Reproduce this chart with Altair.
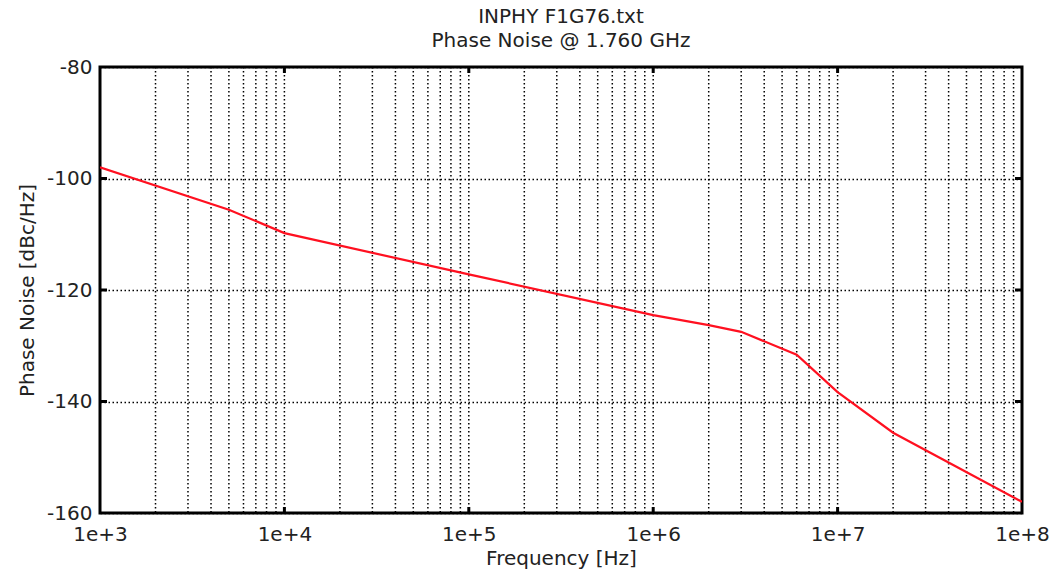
import altair as alt
import pandas as pd

# Phase noise curve (offset frequency in Hz, dBc/Hz)
freq = [1e3, 5e3, 1e4, 1e5, 1e6, 2e6, 3e6, 6e6, 1e7, 2e7, 1e8]
noise = [-98.0, -105.6, -109.8, -117.2, -124.5, -126.3, -127.5, -131.6, -138.3, -145.6, -158.0]

# Minor/major vertical grid positions
grid_freq = [m * 10 ** k for k in range(3, 8) for m in range(2, 10)] + [1e4, 1e5, 1e6, 1e7]
decades = [1e4, 1e5, 1e6, 1e7]
decade_labels = [1e3, 1e4, 1e5, 1e6, 1e7, 1e8]
y_ticks = [-160, -140, -120, -100, -80]
y_inner = [-140, -120, -100]

FONT = "DejaVu Sans"
TXT = "#222222"
FS = 20

df = pd.DataFrame({"freq": freq, "noise": noise})
gdf = pd.DataFrame({"f": grid_freq})
ddf = pd.DataFrame({"f": decades})
ydf = pd.DataFrame({"v": y_inner})

xscale = alt.Scale(type="log", domain=[1e3, 1e8], nice=False)
yscale = alt.Scale(domain=[-160, -80], nice=False)

line = alt.Chart(df).mark_line(color="#ff1020", strokeWidth=2.2, clip=True).encode(
    x=alt.X(
        "freq:Q",
        scale=xscale,
        title="Frequency [Hz]",
        axis=alt.Axis(
            values=decade_labels,
            labelExpr="'1e+' + round(log(datum.value) / LN10)",
            grid=False,
            ticks=False,
            domain=False,
            labelPadding=11,
            labelFontSize=FS,
            labelFont=FONT,
            labelColor=TXT,
            labelFlush=False,
            labelOverlap=False,
            labelBound=False,
            titleFontSize=FS,
            titleFont=FONT,
            titleFontWeight="normal",
            titleColor=TXT,
            titlePadding=4,
        ),
    ),
    y=alt.Y(
        "noise:Q",
        scale=yscale,
        title="Phase Noise [dBc/Hz]",
        axis=alt.Axis(
            values=y_ticks,
            labelExpr="'' + datum.value",
            grid=True,
            gridDash=[1.5, 2.5],
            gridColor="black",
            gridWidth=1.5,
            gridOpacity=1,
            ticks=False,
            domain=False,
            labelPadding=8,
            labelFontSize=FS,
            labelFont=FONT,
            labelColor=TXT,
            titleFontSize=FS,
            titleFont=FONT,
            titleFontWeight="normal",
            titleColor=TXT,
            titlePadding=9,
        ),
    ),
)

vgrid = alt.Chart(gdf).mark_rule(
    color="black", strokeWidth=1.5, strokeDash=[1.5, 2.5]
).encode(x=alt.X("f:Q", scale=xscale))

top_ticks = alt.Chart(ddf).mark_rule(color="black", strokeWidth=3).encode(
    x=alt.X("f:Q", scale=xscale), y=alt.value(0), y2=alt.value(6)
)
bot_ticks = alt.Chart(ddf).mark_rule(color="black", strokeWidth=3).encode(
    x=alt.X("f:Q", scale=xscale), y=alt.value(446), y2=alt.value(440)
)
left_ticks = alt.Chart(ydf).mark_rule(color="black", strokeWidth=3).encode(
    y=alt.Y("v:Q", scale=yscale), x=alt.value(0), x2=alt.value(7)
)
right_ticks = alt.Chart(ydf).mark_rule(color="black", strokeWidth=3).encode(
    y=alt.Y("v:Q", scale=yscale), x=alt.value(922), x2=alt.value(915)
)

chart = (
    alt.layer(vgrid, line, top_ticks, bot_ticks, left_ticks, right_ticks)
    .properties(
        width=922,
        height=446,
        title=alt.TitleParams(
            text=["INPHY F1G76.txt", "Phase Noise @ 1.760 GHz"],
            fontSize=FS,
            font=FONT,
            fontWeight="normal",
            color=TXT,
            lineHeight=24,
            anchor="middle",
            offset=6,
        ),
        autosize=alt.AutoSizeParams(type="none"),
        padding={"left": 100, "top": 67, "right": 41, "bottom": 58},
        background="white",
    )
    .configure_view(stroke="black", strokeWidth=3)
)

chart.save("out.html", embed_options={"renderer": "svg", "actions": False})
